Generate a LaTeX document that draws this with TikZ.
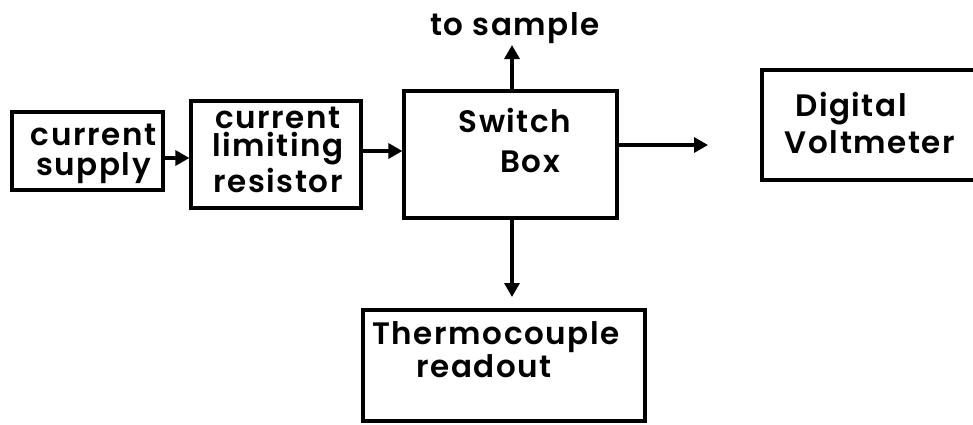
\documentclass[tikz,border=0pt]{standalone}
\usepackage{fontspec}
\setmainfont{Poppins}[UprightFont={* SemiBold}, LetterSpace=5]
\usetikzlibrary{arrows.meta}
\tikzset{
  blk/.style={draw, line width=3.2pt, inner sep=0pt},
  lbl/.style={anchor=base, inner sep=0pt, align=center, font=\fontsize{31}{27}\selectfont},
  arr/.style={line width=3.2pt, -{Triangle[length=14pt,width=15pt]}}
}
\begin{document}
\begin{tikzpicture}[x=1pt,y=-1pt]
\useasboundingbox (0,0) rectangle (973,424);
\clip (0,0) rectangle (973,424);
% boxes
\node[blk, minimum width=151pt, minimum height=78pt] (cs) at (87.5,151) {};
\node[blk, minimum width=170pt, minimum height=107pt] (clr) at (276,154.5) {};
\node[blk, minimum width=213pt, minimum height=127pt] (sw) at (510.5,154.5) {};
\node[blk, minimum width=260pt, minimum height=110pt] (dvm) at (892,125) {};
\node[blk, minimum width=282pt, minimum height=111pt] (tc) at (504,365.5) {};
% labels (anchor = baseline of last line)
\node[lbl] (csT) at (93.5,175) {current\\[2.5pt]supply};
\node[lbl] (clrT) at (278,192) {current\\[1.5pt]limiting\hspace*{14pt}\\[1.5pt]resistor};
\node[lbl] (swT) at (522.5,172) {Switch\hspace*{15pt}\\[13pt]\hspace*{15pt}Box};
\node[lbl] (tsT) at (515,35) {to sample};
\node[lbl] (dvmT) at (860.5,153) {Digital\hspace*{19pt}\\[4pt]\hspace*{19pt}Voltmeter};
\node[lbl] (tcT) at (490,377) {\hspace*{12pt}Thermocouple\\readout\hspace*{12pt}};
% free ends
\coordinate (toSample) at (512,45);
\coordinate (toDvm) at (708,145);
\coordinate (toTc) at (512,297);
% connectors
\draw[arr] ([yshift=-7pt]cs.east) -- ([yshift=-7pt]cs.east -| clr.west);
\draw[arr] ([yshift=3.5pt]clr.east) -- ([yshift=3.5pt]clr.east -| sw.west);
\draw[arr] (sw.north -| toSample) -- (toSample);
\draw[arr] (sw.east |- toDvm) -- (toDvm);
\draw[arr] (sw.south -| toTc) -- (toTc);
\end{tikzpicture}
\end{document}
